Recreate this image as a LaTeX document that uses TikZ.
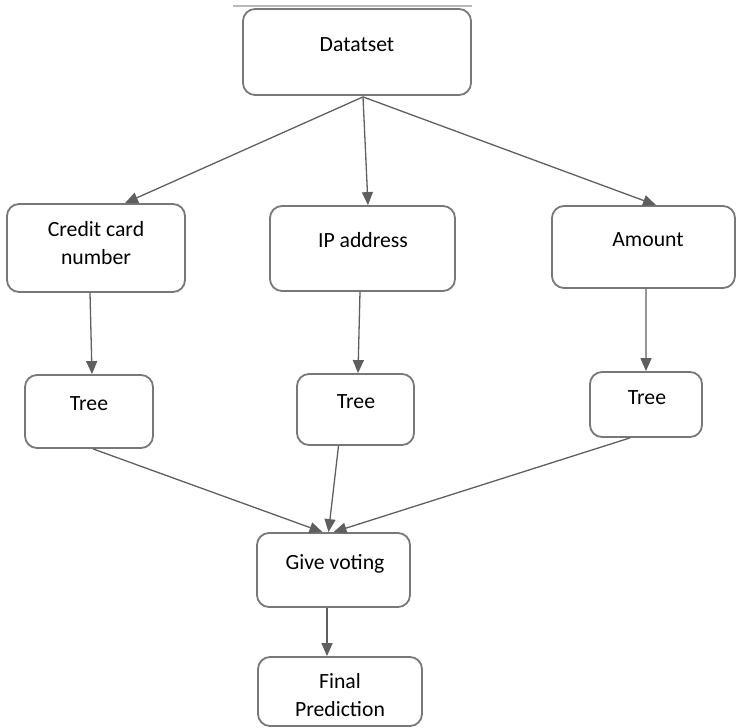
\documentclass[tikz,border=0pt]{standalone}
\usepackage{fontspec}
\setmainfont{Carlito}
\usetikzlibrary{arrows.meta,calc}

\definecolor{edgegray}{RGB}{120,120,120}
\definecolor{arrowgray}{RGB}{95,95,95}
\definecolor{rulegray}{RGB}{185,185,185}

\tikzset{
  box/.style={draw=edgegray, line width=1.8bp, rounded corners=12bp,
    fill=white, inner sep=0pt},
  lbl/.style={anchor=base, align=center, inner sep=0pt,
    font=\fontsize{21.8}{28}\selectfont},
  flow/.style={draw=arrowgray, line width=1.3bp,
    -{Triangle[length=13bp,width=11bp]}},
}

% box helper: name, left, top, right, bottom
\newcommand{\flowbox}[5]{%
  \node[box, minimum width={(#4-#2)*1bp}, minimum height={(#5-#3)*1bp}]
    (#1) at ({(#2+#4)/2},{(#3+#5)/2}) {};}

\begin{document}
\begin{tikzpicture}[x=1bp,y=-1bp]
  \useasboundingbox (0,0) rectangle (737,728);

  % thin rule above the first box
  \coordinate (ruleL) at (233,6);
  \coordinate (ruleR) at (472,6);
  \draw[rulegray, line width=1.5bp] (ruleL) -- (ruleR);

  % boxes
  \flowbox{ds}{243}{9}{471}{95}
  \flowbox{cc}{7}{204}{185}{292}
  \flowbox{ip}{270}{206}{455}{291}
  \flowbox{am}{552}{206}{735}{288}
  \flowbox{t1}{25}{375}{153}{448}
  \flowbox{t2}{297}{374}{414}{445}
  \flowbox{t3}{590}{372}{702}{437}
  \flowbox{gv}{257}{533}{410}{607}
  \flowbox{fp}{258}{657}{422}{726}

  % labels (base = baseline of the last line)
  \node[lbl] (dsT) at (357,52) {Datatset};
  \node[lbl] (ccT) at (96,264) {Credit card\\number};
  \node[lbl] (ipT) at (363,247) {IP address};
  \node[lbl] (amT) at (648,246) {Amount};
  \node[lbl] (t1T) at (89,410) {Tree};
  \node[lbl] (t2T) at (356,408) {Tree};
  \node[lbl] (t3T) at (647,404) {Tree};
  \node[lbl] (gvT) at (335,569) {Give voting};
  \node[lbl] (fpT) at (340,716) {Final\\Prediction};

  % split of the dataset into the three features
  \coordinate (dsOut) at ($(ds.south)+(6,1)$);
  \draw[flow] (dsOut) -- ($(cc.north)+(29,0)$);
  \draw[flow] (dsOut) -- ($(ip.north)+(5.5,0)$);
  \draw[flow] (dsOut) -- ($(am.north)+(12.5,0)$);

  % one tree per feature
  \draw[flow] ($(cc.south)+(-6,0)$) -- ($(t1.north)+(3,0)$);
  \draw[flow] ($(ip.south)+(-2.5,0)$) -- ($(t2.north)+(2.5,0)$);
  \draw[flow] ($(am.south)+(2.5,0)$) -- ($(t3.north)+(0,0)$);

  % trees vote together
  \draw[flow] ($(t1.south)+(4,0)$) -- ($(gv.north)+(-11,0)$);
  \draw[flow] ($(t2.south)+(-17,0)$) -- ($(gv.north)+(-5,0)$);
  \draw[flow] ($(t3.south)+(-16,0)$) -- ($(gv.north)+(0,0)$);

  % final output
  \draw[flow] ($(gv.south)+(-6.5,0)$) -- ($(fp.north)+(-13,0)$);
\end{tikzpicture}
\end{document}
